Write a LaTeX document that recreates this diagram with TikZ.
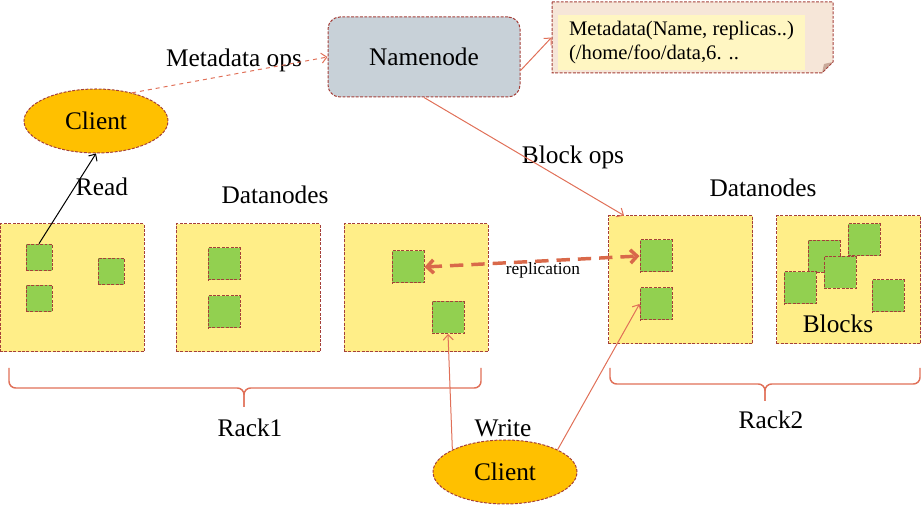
\documentclass[tikz,border=0pt]{standalone}
\usepackage{fontspec}
\setmainfont{Liberation Serif}
\usetikzlibrary{arrows.meta,shapes.geometric}

\definecolor{rackyellow}{HTML}{FFEE88}
\definecolor{blockgreen}{HTML}{92D050}
\definecolor{borderred}{HTML}{A5403A}
\definecolor{flowred}{HTML}{E07058}
\definecolor{replred}{HTML}{D9694A}
\definecolor{namegray}{HTML}{C8D1D8}
\definecolor{clientorange}{HTML}{FFC000}
\definecolor{notebeige}{HTML}{F6E6D8}
\definecolor{notefold}{HTML}{C9A999}
\definecolor{noteyellow}{HTML}{FFF6C2}

\tikzset{every picture/.style={line width=0.75pt}}
\tikzset{
  edgered/.style={draw=borderred, dash pattern=on 2.2pt off 1.1pt},
  rackbox/.style={edgered, fill=rackyellow, minimum width=108pt, minimum height=96pt, inner sep=0pt},
  blockbox/.style={edgered, fill=blockgreen, minimum size=24pt, inner sep=0pt},
  smallblock/.style={blockbox, minimum width=19.5pt, minimum height=20pt},
  clientnode/.style={ellipse, edgered, fill=clientorange, minimum width=108pt, minimum height=48pt, inner sep=0pt, font=\fontsize{19}{22}\selectfont},
  biglabel/.style={inner sep=0.75pt, font=\fontsize{19}{22}\selectfont},
  flow/.style={draw=flowred, -{Straight Barb[length=4pt,width=7.5pt]}},
  rackbrace/.style={draw=flowred, line width=1.1pt, rounded corners=5pt},
}

\begin{document}
\begin{tikzpicture}[x=0.75pt,y=0.75pt,yscale=-1,xscale=1]
\useasboundingbox (0,0) rectangle (921,505);

%Shape: Namenode
\node [edgered, fill=namegray, rounded corners=9pt, minimum width=144pt, minimum height=60pt, font=\fontsize{19}{22}\selectfont] (namenode) at (424,57) {Namenode};

%Shape: Metadata note
\node [fill=notebeige, minimum width=210.75pt, minimum height=53.25pt, inner sep=0pt] (notebg) at (692.5,37.5) {};
\fill [white] (833,62) -- (833,74) -- (821,74) -- cycle;
\fill [notefold] (833,62) -- (822,73) -- (824,64) -- cycle;
\draw [edgered] (552,2) -- (833,2) -- (833,62) -- (822,73) -- (552,73) -- cycle;
\node [fill=noteyellow, minimum width=185.25pt, minimum height=41.25pt, align=left, font=\fontsize{15.5}{17.5}\selectfont] (note) at (681.5,42.5) {Metadata(Name, replicas..)\\(/home/foo/data,6. ..};

%Shape: Clients
\node [clientnode] (client1) at (96,121) {Client};
\node [clientnode] (client2) at (505,472) {Client};

%Shape: Racks
\node [rackbox] (rack1) at (72,288) {};
\node [rackbox] (rack2) at (248,288) {};
\node [rackbox] (rack3) at (416,288) {};
\node [rackbox] (rack4) at (680.5,280) {};
\node [rackbox] (rack5) at (848.5,280) {};

%Shape: Blocks
\node [smallblock] (blk1a) at (39,257.5) {};
\node [smallblock] (blk1b) at (39,298.5) {};
\node [smallblock] (blk1c) at (111,271.5) {};
\node [blockbox] (blk2a) at (224,264) {};
\node [blockbox] (blk2b) at (224,312) {};
\node [blockbox] (blk3a) at (408,267) {};
\node [blockbox] (blk3b) at (448,317.5) {};
\node [blockbox] (blk4a) at (656,256) {};
\node [blockbox] (blk4b) at (656,304) {};
\node [blockbox] (blk5a) at (824,256.5) {};
\node [blockbox] (blk5b) at (864,240) {};
\node [blockbox] (blk5c) at (800,288) {};
\node [blockbox] (blk5d) at (840,272.5) {};
\node [blockbox] (blk5e) at (888,296) {};

% Text Node
\node [biglabel] (metaops) at (234,60) {Metadata ops};
\node [biglabel] (readlbl) at (102,187) {Read};
\node [biglabel] (dnodes1) at (275,195) {Datanodes};
\node [biglabel] (dnodes2) at (763,188) {Datanodes};
\node [biglabel] (blockops) at (573,157) {Block ops};
\node [biglabel] (blockslbl) at (838,324) {Blocks};
\node [biglabel] (writelbl) at (503,428) {Write};
\node [biglabel] (rack1lbl) at (250,428) {Rack1};
\node [biglabel] (rack2lbl) at (771,420) {Rack2};
\node [inner sep=0.75pt, font=\fontsize{13}{15}\selectfont] (repllbl) at (543,270) {replication};

%Connectors
\draw [flow, dashed] (client1.38) -- (namenode.west);
\draw [flow] (namenode.-8) -- (notebg.west);
\draw [flow] (namenode.south) -- ([xshift=12pt]rack4.north west);
\draw [-{Straight Barb[length=4pt,width=7.5pt]}] (blk1a.north) -- (client1.south);
\draw [draw=replred, line width=2.6pt, dash pattern=on 10pt off 6pt, {Straight Barb[length=5pt,width=10pt]}-{Straight Barb[length=5pt,width=10pt]}] (blk3a.east) -- (blk4a.west);
\draw [flow] (client2.157) -- (blk3b.south);
\draw [flow] (client2.23) -- (blk4b.west);

%Braces
\draw [rackbrace] (9,368) -- (9,388) -- (244,388) -- (244,407);
\draw [rackbrace] (481,368) -- (481,388) -- (244,388) -- (244,407);
\draw [rackbrace] (610,368) -- (610,384) -- (765,384) -- (765,401);
\draw [rackbrace] (920,368) -- (920,384) -- (765,384) -- (765,401);

\end{tikzpicture}
\end{document}
